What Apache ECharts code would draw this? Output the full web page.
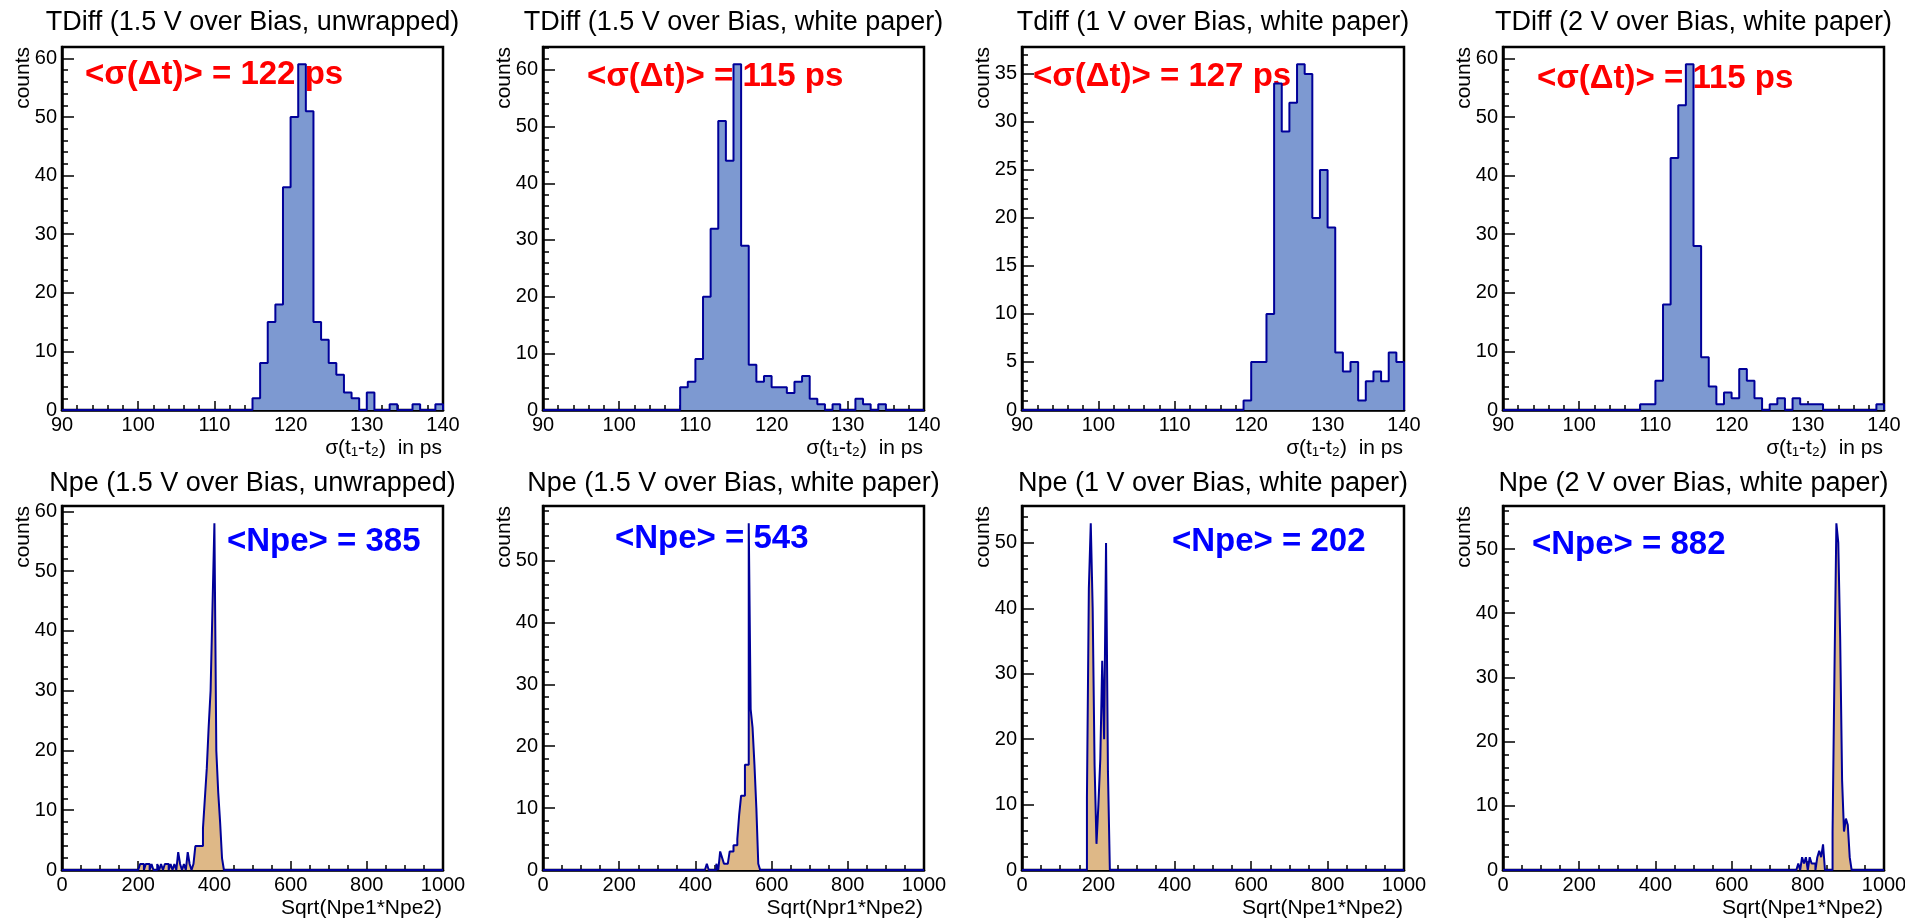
<!DOCTYPE html>
<html>
<head>
<meta charset="utf-8">
<script src="https://cdn.jsdelivr.net/npm/echarts@6/dist/echarts.min.js"></script>
<style>
html, body { margin: 0; padding: 0; background: #ffffff; }
#chart { width: 1905px; height: 922px; }
</style>
</head>
<body>
<div id="chart"></div>
<script>
// ---------------- DATA ----------------
const titles = [
  'TDiff (1.5 V over Bias, unwrapped)',
  'TDiff (1.5 V over Bias, white paper)',
  'Tdiff (1 V over Bias, white paper)',
  'TDiff (2 V over Bias, white paper)',
  'Npe (1.5 V over Bias, unwrapped)',
  'Npe (1.5 V over Bias, white paper)',
  'Npe (1 V over Bias, white paper)',
  'Npe (2 V over Bias, white paper)'
];
const xAxisNames = [
  'σ(t₁-t₂)  in ps', 'σ(t₁-t₂)  in ps', 'σ(t₁-t₂)  in ps', 'σ(t₁-t₂)  in ps',
  'Sqrt(Npe1*Npe2)', 'Sqrt(Npr1*Npe2)', 'Sqrt(Npe1*Npe2)', 'Sqrt(Npe1*Npe2)'
];
const yAxisName = 'counts';
const annotations = [
  '<σ(Δt)> = 122 ps', '<σ(Δt)> = 115 ps', '<σ(Δt)> = 127 ps', '<σ(Δt)> = 115 ps',
  '<Npe> = 385', '<Npe> = 543', '<Npe> = 202', '<Npe> = 882'
];

// tick labels
const tdiffTicks = [90, 100, 110, 120, 130, 140];
const npeTicks = [0, 200, 400, 600, 800, 1000];
const countTicks10 = [0, 10, 20, 30, 40, 50, 60];
const countTicks5 = [0, 5, 10, 15, 20, 25, 30, 35];

// TDiff histograms: bins of 1 ps starting at 90 ps
const tdiffStart = 90;
const tdiffBinWidth = 1;
const tdiff15Unwrapped = [
  0,0,0,0,0,0,0,0,0,0, 0,0,0,0,0,0,0,0,0,0, 0,0,0,0,0,
  2,8,15,18,38,50,59,51,15,12,8,6,3,2,0,3,0,0,1,0,0,1,0,0,1
];
const tdiff15White = [
  0,0,0,0,0,0,0,0,0,0, 0,0,0,0,0,0,0,0,
  4,5,9,20,32,51,44,61,29,8,5,6,4,4,3,5,6,2,1,0,1,0,0,2,1,0,1,0,0,0,0,0
];
const tdiff1White = [
  0,0,0,0,0,0,0,0,0,0, 0,0,0,0,0,0,0,0,0,0, 0,0,0,0,0,0,0,0,0,
  1,5,5,10,34,29,32,36,35,20,25,19,6,4,5,1,3,4,3,6,5
];
const tdiff2White = [
  0,0,0,0,0,0,0,0,0,0, 0,0,0,0,0,0,0,0,
  1,1,5,18,43,52,59,28,9,4,1,3,2,7,5,2,0,1,2,0,2,1,1,1,0,0,0,0,0,0,0,1
];

// Npe histograms: bins of 5 p.e., listed from the given start value
const npeBinWidth = 5;
const npe15UnwrappedStart = 200;
const npe15Unwrapped = [
  0,1,1,0,1,1,0,1,0,0,1,0,1,0,1,1,0,1,0,1,0,3,1,0,1,0,3,1,0,1,
  4,4,4,4,7,12,17,24,30,44,58,20,13,8,2,0
];
const npe15WhiteStart = 425;
const npe15White = [
  0,1,0,0,0,0,1,0,3,2,1,1,1,3,3,4,4,5,9,12,12,17,17,56,26,23,17,10,1,0
];
const npe1WhiteStart = 170;
const npe1White = [11,43,53,40,16,4,10,17,32,20,50,15,0];
const npe2WhiteStart = 770;
const npe2White = [
  0,1,0,2,1,2,0,2,1,1,0,2,3,2,4,0,0,0,0,6,31,54,51,36,14,6,8,7,2,0
];

// ---------------- LAYOUT / STYLE ----------------
const FONT = '"Liberation Sans", Arial, Helvetica, sans-serif';
const colLeft = [62, 543, 1022, 1503];
const colWidth = [381, 381, 382, 381];
const rowTop = [47, 506];
const rowHeight = [363, 364];
const lineColor = '#000099';
const tdiffFill = '#7d99d1';
const npeFill = '#deb887';
const annotColors = ['#ff0000', '#0000ff'];
const annotPos = [
  [85, 75], [587, 77], [1033, 77], [1537, 79],
  [227, 542], [615, 539], [1172, 542], [1532, 545]
];

const panels = [
  { counts: tdiff15Unwrapped, start: tdiffStart, w: tdiffBinWidth, xt: tdiffTicks, xMinor: 5, yt: countTicks10, yMinor: 5, fill: tdiffFill },
  { counts: tdiff15White, start: tdiffStart, w: tdiffBinWidth, xt: tdiffTicks, xMinor: 5, yt: countTicks10, yMinor: 5, fill: tdiffFill },
  { counts: tdiff1White, start: tdiffStart, w: tdiffBinWidth, xt: tdiffTicks, xMinor: 5, yt: countTicks5, yMinor: 5, fill: tdiffFill },
  { counts: tdiff2White, start: tdiffStart, w: tdiffBinWidth, xt: tdiffTicks, xMinor: 5, yt: countTicks10, yMinor: 5, fill: tdiffFill },
  { counts: npe15Unwrapped, start: npe15UnwrappedStart, w: npeBinWidth, xt: npeTicks, xMinor: 4, yt: countTicks10, yMinor: 5, fill: npeFill },
  { counts: npe15White, start: npe15WhiteStart, w: npeBinWidth, xt: npeTicks, xMinor: 4, yt: countTicks10, yMinor: 5, fill: npeFill },
  { counts: npe1White, start: npe1WhiteStart, w: npeBinWidth, xt: npeTicks, xMinor: 4, yt: countTicks10, yMinor: 5, fill: npeFill },
  { counts: npe2White, start: npe2WhiteStart, w: npeBinWidth, xt: npeTicks, xMinor: 4, yt: countTicks10, yMinor: 5, fill: npeFill }
];

function histPoints(start, w, counts, xmin, xmax) {
  const pts = [[xmin, 0]];
  counts.forEach((c, i) => pts.push([start + i * w, c]));
  pts.push([start + counts.length * w, 0]);
  pts.push([xmax, 0]);
  return pts;
}

const grids = [], xAxes = [], yAxes = [], series = [], graphics = [];
const tickStyle = { color: '#000', width: 1.5 };
const plainNumber = v => String(Math.round(v * 1000) / 1000);

panels.forEach((p, i) => {
  const col = i % 4, row = Math.floor(i / 4);
  const left = colLeft[col], top = rowTop[row], width = colWidth[col], height = rowHeight[row];
  grids.push({
    left: left, top: top, width: width, height: height,
    containLabel: false, outerBoundsMode: 'none',
    show: true, borderColor: '#000', borderWidth: 2.5, backgroundColor: 'transparent'
  });
  const xmin = p.xt[0], xmax = p.xt[p.xt.length - 1], xint = p.xt[1] - p.xt[0];
  xAxes.push({
    gridIndex: i, type: 'value', position: 'bottom', min: xmin, max: xmax, interval: xint,
    axisLine: { show: true, onZero: false, lineStyle: { color: '#000', width: 2.5 } },
    axisTick: { show: true, inside: true, length: 9, lineStyle: tickStyle },
    minorTick: { show: true, splitNumber: p.xMinor, length: 5, lineStyle: tickStyle },
    axisLabel: { show: true, color: '#000', fontSize: 20, fontFamily: FONT, margin: 5, formatter: plainNumber },
    splitLine: { show: false }, minorSplitLine: { show: false }
  });
  const ymax = 1.05 * Math.max(...p.counts);
  const ymaj = p.yt[1] - p.yt[0];
  // minor ticks axis (drives the series)
  yAxes.push({
    gridIndex: i, type: 'value', position: 'left', min: 0, max: ymax, interval: ymaj / p.yMinor,
    axisLine: { show: true, onZero: false, lineStyle: { color: '#000', width: 2.5 } },
    axisTick: { show: true, inside: true, length: 6, lineStyle: tickStyle },
    axisLabel: { show: false }, splitLine: { show: false }
  });
  // major ticks and labels
  yAxes.push({
    gridIndex: i, type: 'value', position: 'left', min: 0, max: ymax, interval: ymaj,
    axisLine: { show: false },
    axisTick: { show: true, inside: true, length: 12, lineStyle: tickStyle },
    axisLabel: { show: true, color: '#000', fontSize: 20, fontFamily: FONT, margin: 5, showMaxLabel: false, formatter: plainNumber },
    splitLine: { show: false }
  });
  series.push({
    type: 'line', xAxisIndex: i, yAxisIndex: 2 * i,
    data: histPoints(p.start, p.w, p.counts, xmin, xmax),
    step: 'end', symbol: 'none', showSymbol: false, clip: false, silent: true, z: 3,
    lineStyle: { color: lineColor, width: 2 },
    areaStyle: { color: p.fill, opacity: 1 }
  });
  // title
  graphics.push({
    type: 'text', x: left + width / 2, y: row === 0 ? 23 : 484, z: 1,
    style: { text: titles[i], fill: '#000', fontSize: 27, fontFamily: FONT, align: 'center', verticalAlign: 'middle' }
  });
  // y axis name
  graphics.push({
    type: 'text', x: left - 39, y: top, rotation: Math.PI / 2, z: 1,
    style: { text: yAxisName, fill: '#000', fontSize: 21, fontFamily: FONT, align: 'right', verticalAlign: 'middle' }
  });
  // x axis name
  graphics.push({
    type: 'text', x: left + width - 1, y: top + height + 38, z: 1,
    style: { text: xAxisNames[i], fill: '#000', fontSize: 21, fontFamily: FONT, align: 'right', verticalAlign: 'middle' }
  });
  // annotation
  graphics.push({
    type: 'text', x: annotPos[i][0], y: annotPos[i][1], z: 1,
    style: { text: annotations[i], fill: annotColors[row], fontSize: 33, fontWeight: 'bold', fontFamily: FONT, align: 'left', verticalAlign: 'middle' }
  });
});

const chart = echarts.init(document.getElementById('chart'), null, { renderer: 'canvas', width: 1905, height: 922 });
chart.setOption({
  animation: false,
  backgroundColor: '#ffffff',
  grid: grids,
  xAxis: xAxes,
  yAxis: yAxes,
  series: series,
  graphic: { elements: graphics }
});
</script>
</body>
</html>
